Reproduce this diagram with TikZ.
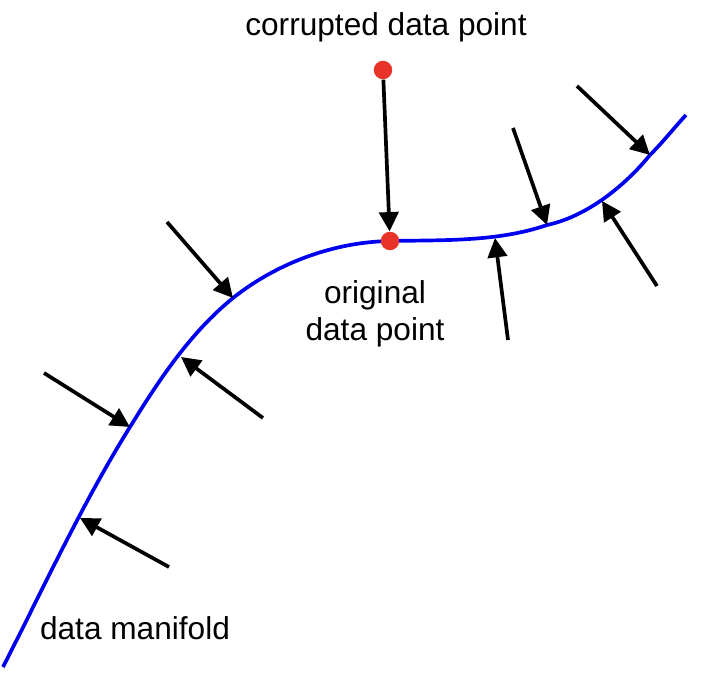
\documentclass[tikz,border=0pt]{standalone}
\usepackage{fontspec}
\setmainfont{Liberation Sans}
\usetikzlibrary{arrows.meta}
\definecolor{dotred}{RGB}{232,52,40}
\definecolor{lineblue}{RGB}{0,0,240}

\begin{document}
\begin{tikzpicture}[x=0.02cm,y=-0.02cm]
    \tikzstyle{manifold}=[draw=lineblue,line width=2.1pt]
    \tikzstyle{push}=[draw=black,line width=2.1pt,-{Triangle[length=11pt,width=11pt]}]
    \tikzstyle{dot}=[circle,fill=dotred,draw=none,minimum size=0.37cm,inner sep=0pt]
    \tikzstyle{label}=[font=\fontsize{18}{21}\selectfont,align=center]

    \useasboundingbox (0,0) rectangle (708,682);

    % points on the manifold
    \coordinate (m0)  at (3,667);
    \coordinate (m1)  at (80,518);
    \coordinate (m2)  at (130,427);
    \coordinate (m3)  at (181,357);
    \coordinate (m4)  at (233,298);
    \coordinate (m5)  at (300,260);
    \coordinate (m6)  at (390,241);
    \coordinate (m7)  at (495,238);
    \coordinate (m8)  at (547,225);
    \coordinate (m9)  at (602,201);
    \coordinate (m10) at (650,155);
    \coordinate (m11) at (686,115);

    \path[manifold] (m0) .. controls (44,587) and (82,504) .. (m2)
                         .. controls (159,380) and (190,333) .. (m4)
                         .. controls (277,263) and (334,242) .. (m6)
                         .. controls (442,240) and (498,242) .. (m8)
                         .. controls (585,217) and (623,188) .. (m10)
                         .. controls (663,142) and (674,128) .. (m11);

    % free ends of the arrows
    \coordinate (t1) at (169,567);
    \coordinate (t2) at (44,373);
    \coordinate (t3) at (263,418);
    \coordinate (t4) at (167,222);
    \coordinate (t7) at (508,340);
    \coordinate (t8) at (513,128);
    \coordinate (t9) at (657,286);
    \coordinate (t10) at (577,86);

    \path[push] (t1) -- (m1);
    \path[push] (t2) -- (m2);
    \path[push] (t3) -- (m3);
    \path[push] (t4) -- (m4);
    \path[push] (t7) -- (m7);
    \path[push] (t8) -- (m8);
    \path[push] (t9) -- (m9);
    \path[push] (t10) -- (m10);

    \node[dot] (orig) at (m6) {};
    \node[dot] (corr) at (383,70) {};
    \path[push] (corr) -- (orig);

    \node[label] (corrtext) at (386,27) {corrupted data point};
    \node[label] (origtext) at (375,314) {original\\data point};
    \node[label] (mantext)  at (135,628) {data manifold};
\end{tikzpicture}
\end{document}
